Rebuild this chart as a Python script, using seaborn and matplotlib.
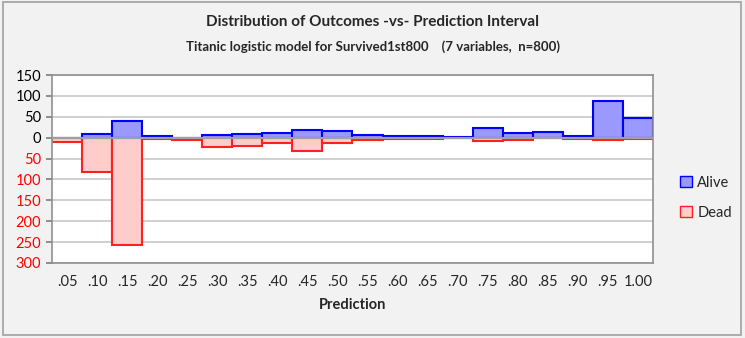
import matplotlib
matplotlib.use("Agg")
import matplotlib.pyplot as plt
import seaborn as sns
import pandas as pd
from matplotlib.patches import Patch, Rectangle

bins = [".05", ".10", ".15", ".20", ".25", ".30", ".35", ".40", ".45", ".50",
        ".55", ".60", ".65", ".70", ".75", ".80", ".85", ".90", ".95", "1.00"]
alive = [0, 8, 39, 3, 0, 6, 9, 11, 19, 17, 6, 3, 5, 2, 24, 11, 13, 5, 88, 48]
dead = [10, 82, 256, 2, 6, 22, 19, 13, 31, 13, 6, 3, 3, 1, 7, 6, 0, 4, 5, 2]
yticks = [150, 100, 50, 0, -50, -100, -150, -200, -250, -300]

sns.set_theme(style="white")
plt.rcParams['font.family'] = ['Lato', 'DejaVu Sans']

fig = plt.figure(figsize=(7.45, 3.38), dpi=100, facecolor="#F2F2F2")
fig.patches.append(Rectangle((0.004, 0.008), 0.99, 0.985, transform=fig.transFigure,
                             fill=False, edgecolor="#A0A0A0", linewidth=1.2))
ax = fig.add_axes([0.0698, 0.222, 0.8067, 0.556])
ax.set_facecolor("white")

df = pd.DataFrame({"bin": bins, "alive": alive, "dead": [-d for d in dead]})

for y in yticks:
    ax.axhline(y, color="#C8C8C8", linewidth=1.2, zorder=0)

sns.barplot(data=df, x="bin", y="alive", width=1.0, color="#9999FF",
            edgecolor="#0000FF", linewidth=1.5, saturation=1, ax=ax, zorder=2)
sns.barplot(data=df, x="bin", y="dead", width=1.0, color="#FFCCCC",
            edgecolor="#FF2020", linewidth=1.5, saturation=1, ax=ax, zorder=2)
ax.axhline(0, color="#A0A0A0", linewidth=1.5, zorder=3)

ax.set_xlim(-0.5, len(bins) - 0.5)
ax.set_ylim(-300, 150)
ax.set_yticks(yticks)
ax.set_yticklabels([str(abs(v)) for v in yticks], fontsize=10.5)
for lbl, v in zip(ax.get_yticklabels(), yticks):
    lbl.set_color("#FF0000" if v < 0 else "black")
ax.tick_params(axis="y", length=4, color="#808080", pad=4, left=True)
ax.tick_params(axis="x", length=0, pad=9, labelsize=10.5)
ax.set_xlabel("Prediction", fontsize=10.5, fontweight="bold", labelpad=6)
ax.set_ylabel("")
for s in ax.spines.values():
    s.set_color("#909090")
    s.set_linewidth(1.2)

fig.text(0.5, 0.935, "Distribution of Outcomes -vs- Prediction Interval",
         ha="center", va="center", fontsize=11, fontweight="bold")
fig.text(0.5, 0.862, "Titanic logistic model for Survived1st800    (7 variables,  n=800)",
         ha="center", va="center", fontsize=9.5, fontweight="bold")

handles = [Patch(facecolor="#9999FF", edgecolor="#0000FF", label="Alive"),
           Patch(facecolor="#FFCCCC", edgecolor="#FF2020", label="Dead")]
fig.legend(handles=handles, loc="center left", bbox_to_anchor=(0.895, 0.415),
           frameon=False, fontsize=10.5, handlelength=0.8, handleheight=0.8,
           handletextpad=0.4, labelspacing=1.1)

fig.savefig("out.png", dpi=100, facecolor=fig.get_facecolor())
